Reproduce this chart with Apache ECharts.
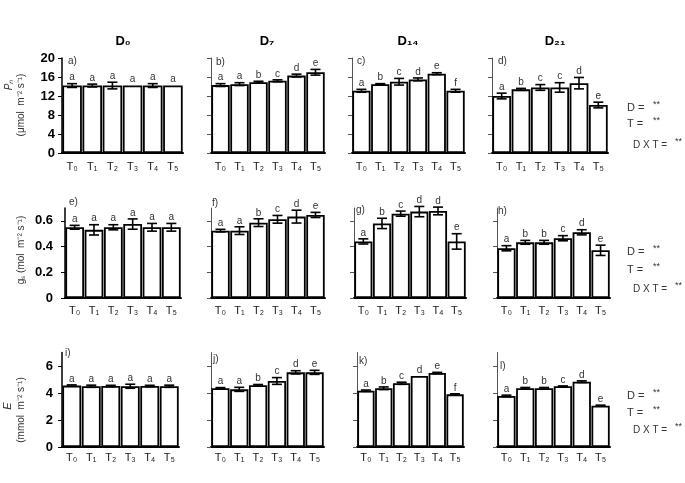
<!DOCTYPE html>
<html lang="en">
<head>
  <meta charset="UTF-8">
  <title>Pn gs E</title>
  <style>
    body{ margin:0; background:#fff; }
    #chart{ width:685px; height:483px; }
  </style>
</head>
<body>
  <div id="chart"></div>
  <script src="https://cdn.jsdelivr.net/npm/echarts@6/dist/echarts.min.js"></script>
  <script>
// treatments on x
const treatments = ['T₀', 'T₁', 'T₂', 'T₃', 'T₄', 'T₅'];
const days = ['D₀', 'D₇', 'D₁₄', 'D₂₁'];
const panelTags = ['a)', 'b)', 'c)', 'd)', 'e)', 'f)', 'g)', 'h)', 'i)', 'j)', 'k)', 'l)'];

// Pn (umol m-2 s-1)
const pnD0 = [14.2, 14.2, 14.2, 14.2, 14.2, 14.2];
const pnD0Err = [0.4, 0.3, 0.7, 0, 0.4, 0];
const pnD0Sig = ['a', 'a', 'a', 'a', 'a', 'a'];
const pnD7 = [14.3, 14.5, 14.9, 15.2, 16.3, 17.0];
const pnD7Err = [0.3, 0.3, 0.2, 0.2, 0.3, 0.6];
const pnD7Sig = ['a', 'a', 'b', 'c', 'd', 'e'];
const pnD14 = [13.1, 14.5, 15.0, 15.5, 16.7, 13.1];
const pnD14Err = [0.3, 0.1, 0.7, 0.3, 0.2, 0.3];
const pnD14Sig = ['a', 'b', 'c', 'd', 'e', 'f'];
const pnD21 = [12.0, 13.4, 13.8, 13.8, 14.7, 10.1];
const pnD21Err = [0.6, 0.2, 0.6, 1.0, 1.2, 0.6];
const pnD21Sig = ['a', 'b', 'c', 'c', 'd', 'e'];

// gs (mol m-2 s-1)
const gsD0 = [0.55, 0.53, 0.55, 0.575, 0.55, 0.55];
const gsD0Err = [0.015, 0.04, 0.02, 0.04, 0.03, 0.03];
const gsD0Sig = ['a', 'a', 'a', 'a', 'a', 'a'];
const gsD7 = [0.524, 0.524, 0.586, 0.612, 0.633, 0.646];
const gsD7Err = [0.01, 0.03, 0.03, 0.03, 0.05, 0.02];
const gsD7Sig = ['a', 'a', 'b', 'c', 'd', 'e'];
const gsD14 = [0.44, 0.58, 0.656, 0.672, 0.677, 0.44];
const gsD14Err = [0.02, 0.04, 0.02, 0.04, 0.03, 0.06];
const gsD14Sig = ['a', 'b', 'c', 'd', 'd', 'e'];
const gsD21 = [0.387, 0.433, 0.433, 0.465, 0.511, 0.371];
const gsD21Err = [0.02, 0.015, 0.015, 0.02, 0.02, 0.04];
const gsD21Sig = ['a', 'b', 'b', 'c', 'd', 'e'];

// E (mmol m-2 s-1)
const eD0 = [4.55, 4.5, 4.52, 4.5, 4.52, 4.5];
const eD0Err = [0.05, 0.08, 0.05, 0.15, 0.05, 0.08];
const eD0Sig = ['a', 'a', 'a', 'a', 'a', 'a'];
const eD7 = [4.35, 4.27, 4.57, 4.89, 5.53, 5.53];
const eD7Err = [0.05, 0.15, 0.06, 0.25, 0.12, 0.15];
const eD7Sig = ['a', 'a', 'b', 'c', 'd', 'e'];
const eD14 = [4.17, 4.35, 4.72, 5.26, 5.48, 3.9];
const eD14Err = [0.05, 0.1, 0.08, 0, 0.05, 0.04];
const eD14Sig = ['a', 'b', 'c', 'd', 'e', 'f'];
const eD21 = [3.78, 4.35, 4.35, 4.5, 4.84, 3.06];
const eD21Err = [0.06, 0.06, 0.06, 0.02, 0.06, 0.04];
const eD21Sig = ['a', 'b', 'b', 'c', 'd', 'e'];

// y ticks per row
const pnTicks = [0, 4, 8, 12, 16, 20];
const gsTicks = [0, 0.2, 0.4, 0.6];
const eTicks = [0, 2, 4, 6];

const panels = [
  [pnD0, pnD0Err, pnD0Sig], [pnD7, pnD7Err, pnD7Sig], [pnD14, pnD14Err, pnD14Sig], [pnD21, pnD21Err, pnD21Sig],
  [gsD0, gsD0Err, gsD0Sig], [gsD7, gsD7Err, gsD7Sig], [gsD14, gsD14Err, gsD14Sig], [gsD21, gsD21Err, gsD21Sig],
  [eD0, eD0Err, eD0Sig], [eD7, eD7Err, eD7Sig], [eD14, eD14Err, eD14Sig], [eD21, eD21Err, eD21Sig]
];

// layout (pixels)
const rows = [
  { top: 58, bottom: 153, max: 20, ticks: pnTicks, labelMargin: 7, xMargin: 8 },
  { top: 208, bottom: 298, max: 0.7, ticks: gsTicks, labelMargin: 12, xMargin: 7 },
  { top: 352.5, bottom: 447, max: 7, ticks: eTicks, labelMargin: 9, xMargin: 5 }
];
const cols = [
  [[62, 183], [211, 325], [352, 465], [492, 608]],
  [[65, 181], [211, 325], [354, 466], [497, 610]],
  [[62, 179], [211, 324], [357, 464], [497, 610]]
];
const tagPos = [
  [73, 62], [221, 63], [362, 62], [503, 62],
  [74, 203], [217, 204], [361, 211], [503, 212],
  [70, 354], [218, 360], [364, 362], [505, 367]
];

const font = 'Liberation Sans, Arial, sans-serif';
const chart = echarts.init(document.getElementById('chart'));

const grid = [], xAxis = [], yAxis = [], series = [], graphic = [];

panels.forEach((p, k) => {
  const r = Math.floor(k / 4), c = k % 4;
  const row = rows[r];
  const [x0, x1] = cols[r][c];
  grid.push({ left: x0, width: x1 - x0, top: row.top, height: row.bottom - row.top });
  xAxis.push({
    type: 'category', gridIndex: k, data: treatments,
    axisLine: { lineStyle: { color: '#000', width: 2 } },
    axisTick: { show: false },
    axisLabel: { color: '#222', fontSize: 11, fontFamily: font, margin: row.xMargin, interval: 0 }
  });
  yAxis.push({
    type: 'value', gridIndex: k, min: 0, max: row.max,
    splitLine: { show: false },
    axisLine: { show: true, lineStyle: { color: c === 0 ? '#000' : '#555', width: c === 0 ? 1.5 : 1 } },
    axisTick: { show: true, length: 4, customValues: row.ticks, lineStyle: { color: c === 0 ? '#000' : '#555' } },
    axisLabel: {
      show: c === 0, customValues: row.ticks, margin: row.labelMargin,
      color: '#000', fontSize: 13, fontWeight: 'bold', fontFamily: font
    }
  });
  series.push({
    type: 'bar', xAxisIndex: k, yAxisIndex: k, data: p[0],
    barCategoryGap: '3%',
    itemStyle: { color: '#fff', borderColor: '#000', borderWidth: 1.8 },
    silent: true
  });
  const errs = p[1], sig = p[2];
  series.push({
    type: 'custom', xAxisIndex: k, yAxisIndex: k,
    data: p[0].map((v, i) => [i, v, errs[i]]),
    z: 5,
    renderItem: (params, api) => {
      const i = api.value(0), v = api.value(1), e = api.value(2);
      const hi = api.coord([i, v + e]);
      const lo = api.coord([i, v - e]);
      const x = hi[0], hw = 5;
      const st = { stroke: '#000', lineWidth: 1.6 };
      const ch = [];
      if (e > 0) {
        ch.push({ type: 'line', shape: { x1: x, y1: hi[1], x2: x, y2: lo[1] }, style: st });
        ch.push({ type: 'line', shape: { x1: x - hw, y1: hi[1], x2: x + hw, y2: hi[1] }, style: st });
        ch.push({ type: 'line', shape: { x1: x - hw, y1: lo[1], x2: x + hw, y2: lo[1] }, style: st });
      }
      ch.push({
        type: 'text',
        style: {
          x: x, y: hi[1] - 1, text: sig[params.dataIndex],
          textAlign: 'center', textVerticalAlign: 'bottom',
          fill: '#333', fontSize: 10, fontFamily: font
        }
      });
      return { type: 'group', children: ch };
    }
  });
  graphic.push({
    type: 'text', left: tagPos[k][0] - 5, top: tagPos[k][1] - 6,
    style: { text: panelTags[k], fill: '#333', fontSize: 10, fontFamily: font }
  });
});

// column titles
const titleX = [123, 267, 408, 555];
days.forEach((d, i) => {
  graphic.push({
    type: 'text', x: titleX[i], y: 41,
    style: { text: d, fill: '#000', fontSize: 13, fontWeight: 'bold', fontFamily: font, textAlign: 'center', textVerticalAlign: 'middle' }
  });
});

// significance text on right
const statRows = [[108, 124, 145], [252, 270, 289], [396, 413, 430]];
statRows.forEach(ys => {
  const t = { fill: '#333', fontSize: 11, fontFamily: font, textVerticalAlign: 'middle' };
  graphic.push({ type: 'text', x: 627, y: ys[0], style: Object.assign({ text: 'D =' }, t) });
  graphic.push({ type: 'text', x: 653, y: ys[0] - 3, style: Object.assign({}, t, { text: '**', fontSize: 9 }) });
  graphic.push({ type: 'text', x: 627, y: ys[1], style: Object.assign({ text: 'T =' }, t) });
  graphic.push({ type: 'text', x: 653, y: ys[1] - 3, style: Object.assign({}, t, { text: '**', fontSize: 9 }) });
  graphic.push({ type: 'text', x: 633, y: ys[2], style: Object.assign({}, t, { text: 'D X T =', fontSize: 10 }) });
  graphic.push({ type: 'text', x: 675, y: ys[2] - 3, style: Object.assign({}, t, { text: '**', fontSize: 9 }) });
});

// y axis names (rotated)
const yName = { fill: '#333', fontSize: 10, fontFamily: font, textAlign: 'center', textVerticalAlign: 'middle' };
graphic.push({ type: 'text', x: 9, y: 85, rotation: Math.PI / 2, style: Object.assign({ text: 'Pₙ', fontStyle: 'italic' }, yName) });
graphic.push({ type: 'text', x: 21, y: 105, rotation: Math.PI / 2, style: Object.assign({ text: '(μmol  m⁻² s⁻¹)' }, yName) });
graphic.push({ type: 'text', x: 21, y: 250, rotation: Math.PI / 2, style: Object.assign({ text: 'gₛ (mol  m⁻² s⁻¹)' }, yName) });
graphic.push({ type: 'text', x: 8, y: 406, rotation: Math.PI / 2, style: Object.assign({}, yName, { text: 'E', fontStyle: 'italic', fontSize: 11 }) });
graphic.push({ type: 'text', x: 21, y: 410, rotation: Math.PI / 2, style: Object.assign({ text: '(mmol  m⁻² s⁻¹)' }, yName) });

chart.setOption({
  animation: false,
  backgroundColor: '#fff',
  grid: grid,
  xAxis: xAxis,
  yAxis: yAxis,
  series: series,
  graphic: graphic
});
  </script>
</body>
</html>
